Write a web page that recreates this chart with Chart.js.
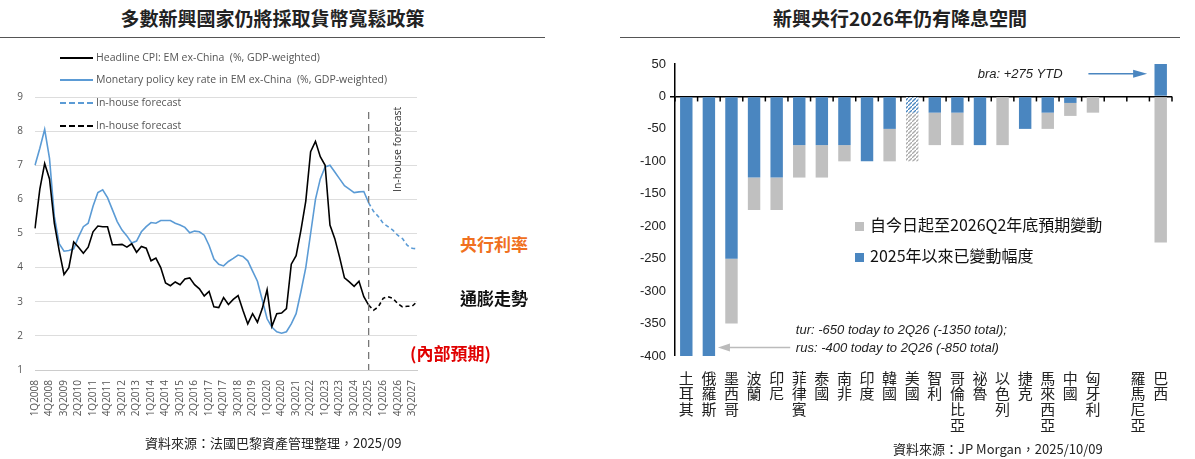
<!DOCTYPE html>
<html><head><meta charset="utf-8">
<script src="https://cdn.jsdelivr.net/npm/chart.js@4"></script>
<style>
body{margin:0;width:1195px;height:459px;background:#fff;position:relative;overflow:hidden;font-family:"Noto Sans CJK TC","Noto Sans",sans-serif}
.abs{position:absolute;white-space:nowrap}
.title{font-weight:bold;font-size:19px;color:#222;top:4px;text-align:center}
.rule{position:absolute;top:37px;height:1px;background:#555}
.lg{position:absolute;font-family:"Open Sans",sans-serif;font-size:10.5px;color:#555}
.lg span{display:inline-block;width:33px;margin-right:3px;vertical-align:middle}
</style></head><body>
<div class="abs title" style="left:0;width:545px">多數新興國家仍將採取貨幣寬鬆政策</div>
<div class="rule" style="left:0;width:545px"></div>
<div class="abs title" style="left:620px;width:560px">新興央行2026年仍有降息空間</div>
<div class="rule" style="left:620px;width:560px"></div>
<canvas id="c1" class="abs" width="460" height="400" style="left:0;top:40px;width:460px;height:400px"></canvas>
<canvas id="c2" class="abs" width="575" height="400" style="left:620px;top:50px;width:575px;height:400px"></canvas>
<div class="lg" style="left:60px;top:50px"><span style="border-top:2px solid #000"></span>Headline CPI: EM ex-China&nbsp; (%, GDP-weighted)</div>
<div class="lg" style="left:60px;top:72px"><span style="border-top:2px solid #5b9bd5"></span>Monetary policy key rate in EM ex-China&nbsp; (%, GDP-weighted)</div>
<div class="lg" style="left:60px;top:95px"><span style="border-top:2px dashed #5b9bd5"></span>In-house forecast</div>
<div class="lg" style="left:60px;top:118px"><span style="border-top:2px dashed #000"></span>In-house forecast</div>
<div class="abs" style="left:460px;top:231px;font-size:17px;font-weight:bold;color:#f07020">央行利率</div>
<div class="abs" style="left:460px;top:285px;font-size:17px;font-weight:bold;color:#111">通膨走勢</div>
<div class="abs" style="left:410px;top:340px;font-size:17px;font-weight:bold;color:#e00000">(內部預期)</div>
<div class="abs" style="left:145px;top:433px;font-size:13px;color:#222">資料來源：法國巴黎資產管理整理，2025/09</div>
<div class="abs" style="left:855px;top:212px;font-size:16px;color:#111"><span style="display:inline-block;width:9px;height:9px;background:#c0c0c0;margin-right:6px"></span>自今日起至2026Q2年底預期變動</div>
<div class="abs" style="left:855px;top:243px;font-size:16px;color:#111"><span style="display:inline-block;width:9px;height:9px;background:#4a86c0;margin-right:6px"></span>2025年以來已變動幅度</div>
<div class="abs" style="left:893px;top:439px;font-size:13px;color:#222">資料來源：JP Morgan，2025/10/09</div>
<script>
// ---- left chart data ----
const quarters=[];for(let y=2008;y<=2027;y++)for(let q=1;q<=4;q++)quarters.push(q+'Q'+y);
const cpiActual=[5.15,6.3,7.05,6.6,5.3,4.5,3.8,4.0,4.75,4.6,4.42,4.6,5.05,5.22,5.2,5.2,4.67,4.67,4.68,4.6,4.7,4.45,4.62,4.57,4.2,4.28,4.0,3.55,3.47,3.58,3.5,3.67,3.7,3.5,3.38,3.17,3.3,2.85,2.83,3.12,2.92,3.07,3.18,2.75,2.35,2.65,2.4,2.8,3.35,2.28,2.65,2.67,2.8,4.1,4.35,5.1,5.95,7.4,7.7,7.25,7.0,5.25,4.85,4.3,3.7,3.58,3.45,3.6,3.15,2.9];
const cpiForecast=[2.9,2.75,2.85,3.1,3.15,3.1,2.95,2.85,2.87,2.87,3.0];
const rateActual=[7.0,7.5,8.05,7.2,5.5,4.7,4.48,4.5,4.55,4.9,5.2,5.3,5.8,6.2,6.28,6.05,5.7,5.35,5.1,4.93,4.72,4.78,5.05,5.2,5.32,5.3,5.38,5.38,5.38,5.3,5.25,5.18,5.02,5.07,5.05,4.95,4.65,4.25,4.1,4.05,4.18,4.27,4.37,4.33,4.2,3.9,3.6,3.05,2.5,2.25,2.12,2.08,2.12,2.35,2.65,3.3,4.0,5.0,6.0,6.6,6.95,7.0,6.8,6.6,6.4,6.3,6.2,6.22,6.23,5.9];
const rateForecast=[5.9,5.65,5.5,5.3,5.2,5.1,4.95,4.85,4.65,4.57,4.55];
const forecastStart=69;
const pad=(a,n)=>a.concat(Array(n-a.length).fill(null));
const padL=(a,n)=>Array(n-a.length).fill(null).concat(a);
const N=quarters.length;

const vline={id:'vline',afterDatasetsDraw(ch){const c=ch.ctx,x=ch.scales.x.getPixelForValue(forecastStart),a=ch.chartArea;
 c.save();c.strokeStyle='#777';c.lineWidth=1.3;c.setLineDash([7,5]);c.beginPath();c.moveTo(x,a.top+15);c.lineTo(x,a.bottom);c.stroke();
 c.setLineDash([]);c.translate(x+32,a.top+95);c.rotate(-Math.PI/2);c.fillStyle='#333';c.font='10.5px "Open Sans"';c.fillText('In-house forecast',0,0);c.restore();}};
new Chart(document.getElementById('c1'),{type:'line',
 data:{labels:quarters,datasets:[
  {data:pad(cpiActual,N),borderColor:'#000',borderWidth:1.6,pointRadius:0,tension:0},
  {data:pad(rateActual,N),borderColor:'#5b9bd5',borderWidth:1.6,pointRadius:0,tension:0},
  {data:padL(rateForecast,N),borderColor:'#5b9bd5',borderDash:[4,3],borderWidth:1.6,pointRadius:0},
  {data:padL(cpiForecast,N),borderColor:'#000',borderDash:[4,3],borderWidth:1.6,pointRadius:0}]},
 options:{responsive:false,animation:false,devicePixelRatio:1,
  layout:{padding:{top:57,right:43,left:0,bottom:0}},
  plugins:{legend:{display:false},tooltip:{enabled:false}},
  scales:{
   x:{grid:{display:false},border:{color:'#ccc'},afterFit(s){s.height=70;},
    ticks:{autoSkip:false,maxRotation:90,minRotation:90,color:'#555',font:{size:10,family:'Open Sans'},padding:2,
     callback:(v,i)=>i%3===0?quarters[i]:''}},
   y:{min:1,max:9,afterFit(s){s.width=35;},border:{display:false},
    grid:{color:'#ddd',borderDash:[2,2],drawTicks:false},
    ticks:{stepSize:1,color:'#555',font:{size:10,family:'Open Sans'},padding:12}}}},
 plugins:[vline]});
</script>
<script>
// ---- right chart data ----
const countries=['土耳其','俄羅斯','墨西哥','波蘭','印尼','菲律賓','泰國','南非','印度','韓國','美國','智利','哥倫比亞','祕魯','以色列','捷克','馬來西亞','中國','匈牙利','','羅馬尼亞','巴西'];
const ytdChange=[-400,-400,-250,-125,-125,-75,-75,-75,-100,-50,-25,-25,-25,-75,0,-50,-25,-10,0,0,0,50];
const expectedChange=[0,0,-100,-50,-50,-50,-50,-25,0,-50,-75,-50,-50,0,-75,0,-25,-20,-25,0,0,-225];
const hatchIndex=10;
function hatch(col){const p=document.createElement('canvas');p.width=p.height=4;const g=p.getContext('2d');g.fillStyle='#fff';g.fillRect(0,0,4,4);
 g.strokeStyle=col;g.lineWidth=1.3;g.beginPath();g.moveTo(0,4);g.lineTo(4,0);g.stroke();return g.createPattern(p,'repeat');}
const cx=document.getElementById('c2').getContext('2d');
const blue='#4a86c0',grey='#c0c0c0';
const blueCols=ytdChange.map((v,i)=>i===hatchIndex?hatch(blue):blue);
const greyCols=expectedChange.map((v,i)=>i===hatchIndex?hatch('#aaa'):grey);
const notes={id:'notes',afterDatasetsDraw(ch){const c=ch.ctx,x=ch.scales.x,y=ch.scales.y,a=ch.chartArea;c.save();
 c.strokeStyle='#000';c.lineWidth=1.5;const y0=y.getPixelForValue(0);
 for(let i=0;i<=countries.length;i++){const px=x.getPixelForValue(i-0.5);c.beginPath();c.moveTo(px,y0);c.lineTo(px,y0+5);c.stroke();}
 c.font='italic 13px "Liberation Sans"';c.fillStyle='#222';
 const yb=y.getPixelForValue(35);c.fillText('bra: +275 YTD',x.getPixelForValue(12.9),yb+4);
 c.strokeStyle=blue;c.fillStyle=blue;c.lineWidth=1.5;const xe=x.getPixelForValue(20.4);
 c.beginPath();c.moveTo(x.getPixelForValue(17.8),yb);c.lineTo(xe-12,yb);c.stroke();
 c.beginPath();c.moveTo(xe,yb);c.lineTo(xe-14,yb-4);c.lineTo(xe-14,yb+4);c.fill();
 c.fillStyle='#222';c.fillText('tur: -650 today to 2Q26 (-1350 total);',x.getPixelForValue(4.85),y.getPixelForValue(-360)+4);
 const yr=y.getPixelForValue(-387);c.fillText('rus: -400 today to 2Q26 (-850 total)',x.getPixelForValue(4.85),yr+4);
 c.strokeStyle='#bbb';c.fillStyle='#bbb';const xa=x.getPixelForValue(1.4);
 c.beginPath();c.moveTo(x.getPixelForValue(4.6),yr);c.lineTo(xa+10,yr);c.stroke();
 c.beginPath();c.moveTo(xa,yr);c.lineTo(xa+12,yr-4);c.lineTo(xa+12,yr+4);c.fill();
 c.restore();}};
new Chart(cx,{type:'bar',
 data:{labels:countries.map(s=>s.split('')),datasets:[
  {data:ytdChange,backgroundColor:blueCols,stack:'s'},
  {data:expectedChange,backgroundColor:greyCols,stack:'s'}]},
 options:{responsive:false,animation:false,devicePixelRatio:1,
  datasets:{bar:{categoryPercentage:1,barPercentage:0.55}},
  layout:{padding:{top:14,right:23,left:0,bottom:0}},
  plugins:{legend:{display:false},tooltip:{enabled:false}},
  scales:{
   x:{stacked:true,grid:{display:false},border:{display:false},afterFit(s){s.height=94;},
    ticks:{autoSkip:false,maxRotation:0,color:'#222',font:{size:15,family:'Noto Sans CJK TC',lineHeight:1.05},padding:6}},
   y:{stacked:true,min:-400,max:50,afterFit(s){s.width=55;},border:{color:'#000',width:1.5},
    grid:{drawOnChartArea:true,color:c=>c.tick.value===0?'#000':'transparent',lineWidth:c=>c.tick.value===0?1.5:0,tickColor:'#000',tickLength:5},
    ticks:{stepSize:50,color:'#222',font:{size:13,family:'Liberation Sans'},padding:4}}}},
 plugins:[notes]});
</script>
</body></html>
